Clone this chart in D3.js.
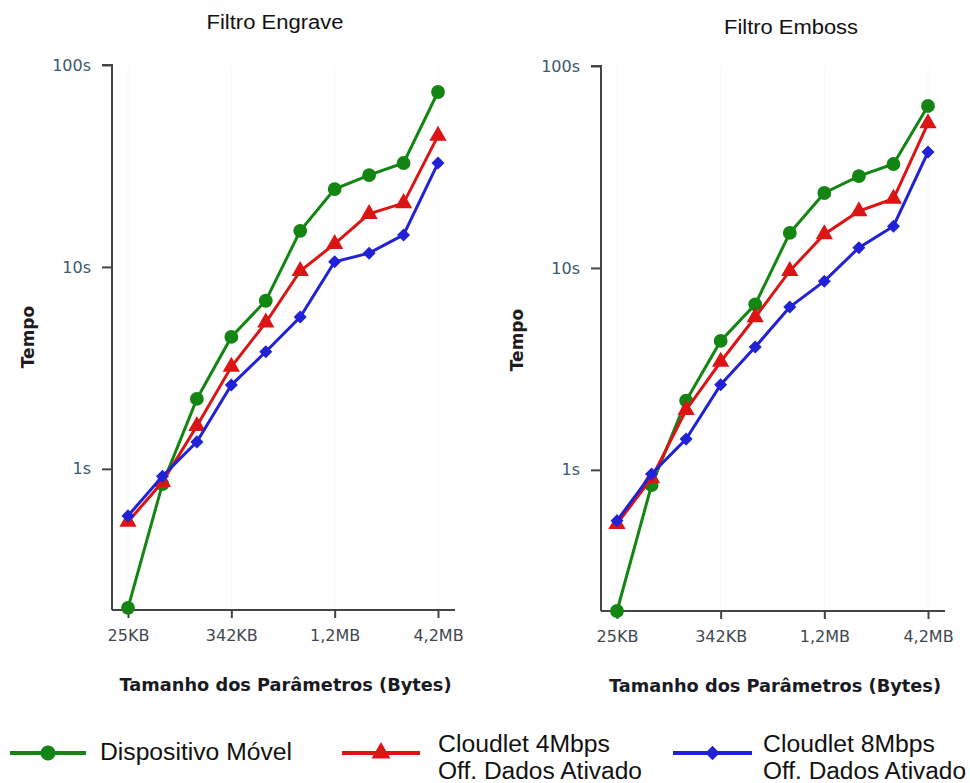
<!DOCTYPE html>
<html>
<head>
<meta charset="utf-8">
<title>Filtros - Tempo</title>
<script src="https://d3js.org/d3.v7.min.js"></script>
<style>
  body { margin: 0; background: #ffffff; }
</style>
</head>
<body>
<div id="chart"></div>
<script>
// x categories (10 parameter sizes), only some are labelled
const sizeIdx = [0, 1, 2, 3, 4, 5, 6, 7, 8, 9];
const tickIdx = [0, 3, 6, 9];
const tickLabels = ["25KB", "342KB", "1,2MB", "4,2MB"];
const yTicks = [1, 10, 100];

// Filtro Engrave (seconds)
const engraveMovel  = [0.205, 0.84, 2.22, 4.5, 6.8, 15.1, 24.3, 28.5, 32.7, 73.5];
const engrave4Mbps  = [0.547, 0.86, 1.63, 3.2, 5.3, 9.55, 13.0, 18.3, 20.7, 44.6];
const engrave8Mbps  = [0.585, 0.92, 1.36, 2.6, 3.8, 5.65, 10.6, 11.7, 14.4, 32.7];

// Filtro Emboss (seconds)
const embossMovel   = [0.2, 0.84, 2.2, 4.35, 6.6, 14.9, 23.5, 28.5, 32.7, 63.4];
const emboss4Mbps   = [0.54, 0.91, 1.98, 3.43, 5.7, 9.66, 14.7, 19.1, 22.0, 52];
const emboss8Mbps   = [0.56, 0.955, 1.42, 2.64, 4.06, 6.4, 8.6, 12.6, 16.1, 37.5];

const colors = ["#138513", "#dc1414", "#2121d6"];
const shapes = [d3.symbolCircle, d3.symbolTriangle, d3.symbolSquare];
const shapeSize = [150, 130, 85];
const shapeRot = [0, 0, 45];

const svg = d3.select("#chart").append("svg")
    .attr("width", 970)
    .attr("height", 783);

const panels = [
  { title: "Filtro Engrave", titleX: 275, titleY: 29, titleW: 137,
    axisX: 112, x0: 128, x1: 438, xEnd: 455, yTop: 65, yBot: 610,
    tempoX: 34, tempoY: 337,
    data: [engraveMovel, engrave4Mbps, engrave8Mbps] },
  { title: "Filtro Emboss", titleX: 791, titleY: 34, titleW: 134,
    axisX: 601, x0: 617, x1: 928, xEnd: 945, yTop: 66, yBot: 611,
    tempoX: 523, tempoY: 340,
    data: [embossMovel, emboss4Mbps, emboss8Mbps] }
];

panels.forEach(p => {
  const g = svg.append("g");

  // very faint box behind title
  g.append("rect")
    .attr("x", p.titleX - 160).attr("y", 0)
    .attr("width", 280).attr("height", 42)
    .attr("fill", "#fefefe");

  const x = d3.scaleLinear().domain([0, 9]).range([p.x0, p.x1]);
  const y = d3.scaleLog().domain([0.2, 100]).range([p.yBot, p.yTop]);

  // faint vertical grid
  g.selectAll(".grid").data(tickIdx).join("line")
    .attr("x1", d => x(d)).attr("x2", d => x(d))
    .attr("y1", p.yTop).attr("y2", p.yBot)
    .attr("stroke", "#f8f8f8").attr("stroke-width", 1);

  // title
  g.append("text")
    .attr("x", p.titleX - p.titleW / 2).attr("y", p.titleY)
    .attr("textLength", p.titleW).attr("lengthAdjust", "spacingAndGlyphs")
    .style("font-family", "'Liberation Sans Narrow', 'Liberation Sans', sans-serif")
    .style("font-size", "20px").attr("fill", "#111")
    .text(p.title);

  // y axis
  const yAxis = d3.axisLeft(y).tickValues(yTicks).tickFormat(d => d + "s").tickSize(10).tickPadding(11);
  const ya = g.append("g").attr("transform", `translate(${p.axisX},0)`).call(yAxis);
  ya.select(".domain").attr("d", `M-10,${p.yTop}H0V${p.yBot}`).attr("stroke", "#444").attr("stroke-width", 2);
  ya.selectAll(".tick line").attr("stroke", "#444").attr("stroke-width", 2);
  ya.selectAll(".tick text")
    .style("font-family", "'DejaVu Sans', Verdana, sans-serif")
    .style("font-size", "16px").attr("fill", "#3a5a70");

  // x axis
  const xAxis = d3.axisBottom(x).tickValues(tickIdx)
    .tickFormat((d, i) => tickLabels[i]).tickSize(8).tickPadding(12);
  const xa = g.append("g").attr("transform", `translate(0,${p.yBot})`).call(xAxis);
  xa.select(".domain").attr("d", `M${p.axisX},0H${p.xEnd}`).attr("stroke", "#444").attr("stroke-width", 2);
  xa.selectAll(".tick line").attr("stroke", "#444").attr("stroke-width", 2);
  xa.selectAll(".tick text")
    .style("font-family", "'DejaVu Sans', Verdana, sans-serif")
    .style("font-size", "16px").attr("fill", "#404850");

  // axis titles
  g.append("text")
    .attr("transform", `translate(${p.tempoX},${p.tempoY}) rotate(-90)`)
    .attr("text-anchor", "middle")
    .style("font-family", "'DejaVu Sans', Verdana, sans-serif")
    .style("font-size", "17px").style("font-weight", "bold")
    .attr("fill", "#221a22")
    .text("Tempo");
  const xt = (p.axisX + p.xEnd) / 2 + 2;
  g.append("text")
    .attr("x", xt - 166).attr("y", p.yBot + 81)
    .attr("textLength", 332).attr("lengthAdjust", "spacingAndGlyphs")
    .style("font-family", "'DejaVu Sans', Verdana, sans-serif")
    .style("font-size", "18px").style("font-weight", "bold")
    .attr("fill", "#1a1a22")
    .text("Tamanho dos Parâmetros (Bytes)");

  // series
  const line = d3.line().x((d, i) => x(sizeIdx[i])).y(d => y(d));
  p.data.forEach((vals, s) => {
    const sg = g.append("g");
    sg.append("path").datum(vals)
      .attr("d", line)
      .attr("fill", "none").attr("stroke", colors[s]).attr("stroke-width", 3);
    sg.selectAll("path.m").data(vals).join("path")
      .attr("class", "m")
      .attr("transform", (d, i) => `translate(${x(sizeIdx[i])},${y(d)}) rotate(${shapeRot[s]})`)
      .attr("d", d3.symbol().type(shapes[s]).size(shapeSize[s]))
      .attr("fill", colors[s]);
  });
});

// legend
const legendItems = [
  { x1: 10, x2: 86, tx: 100, lines: [{ t: "Dispositivo Móvel", y: 760, w: 192 }] },
  { x1: 342, x2: 420, tx: 438, lines: [{ t: "Cloudlet 4Mbps", y: 752, w: 172 }, { t: "Off. Dados Ativado", y: 779, w: 204 }] },
  { x1: 673, x2: 752, tx: 763, lines: [{ t: "Cloudlet 8Mbps", y: 752, w: 172 }, { t: "Off. Dados Ativado", y: 779, w: 203 }] }
];
legendItems.forEach((it, s) => {
  const lg = svg.append("g");
  lg.append("line")
    .attr("x1", it.x1).attr("x2", it.x2).attr("y1", 753).attr("y2", 753)
    .attr("stroke", colors[s]).attr("stroke-width", 4);
  lg.append("path")
    .attr("transform", `translate(${(it.x1 + it.x2) / 2},753) rotate(${shapeRot[s]})`)
    .attr("d", d3.symbol().type(shapes[s]).size(shapeSize[s] * 1.2))
    .attr("fill", colors[s]);
  it.lines.forEach(l => {
    lg.append("text")
      .attr("x", it.tx).attr("y", l.y)
      .attr("textLength", l.w).attr("lengthAdjust", "spacingAndGlyphs")
      .style("font-family", "'Liberation Sans Narrow', 'Liberation Sans', sans-serif")
      .style("font-size", "23px").attr("fill", "#111")
      .text(l.t);
  });
});
</script>
</body>
</html>
